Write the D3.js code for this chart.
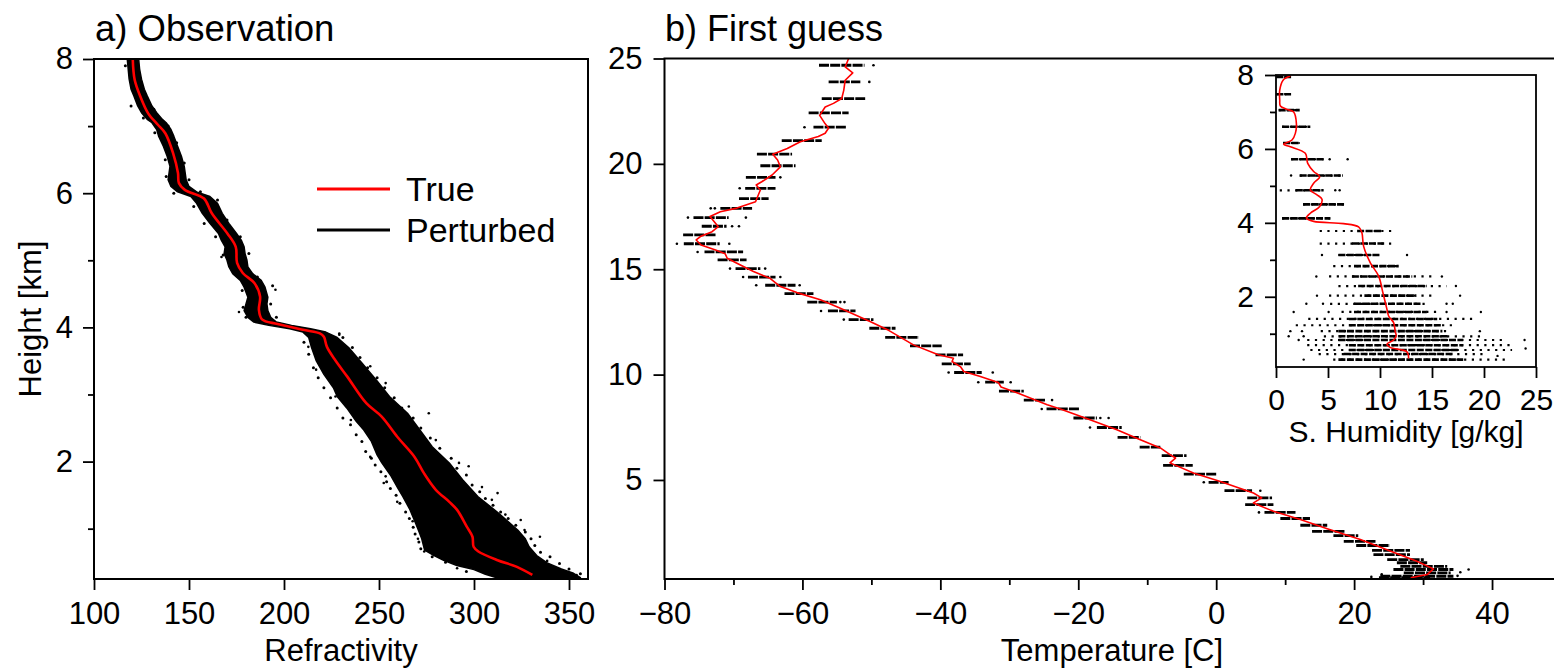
<!DOCTYPE html>
<html><head><meta charset="utf-8">
<script src="https://cdn.jsdelivr.net/npm/d3@7"></script>
<style>
html,body{margin:0;padding:0;background:#fff;}
svg{display:block;font-family:"Liberation Sans",Arial,Helvetica,sans-serif;}
</style></head><body>
<svg id="c" width="1554" height="669"></svg>
<script>
// ---------------- Panel a: refractivity ----------------
const refXTicks = [100,150,200,250,300,350];
const refYTicks = [2,4,6,8];
const refYMinor = [1,3,5,7];
// true profile [N, height km]
const refTrue = [[120.4,8.0],[121.4,7.69],[124.4,7.44],[128.5,7.19],[133.6,7.02],[137.6,6.89],[141.7,6.59],[144.2,6.30],[144.7,6.15],[147.8,6.05],[157.9,5.92],[162,5.70],[170.2,5.40],[174.6,5.20],[175.3,4.96],[178.3,4.81],[184.4,4.66],[187.4,4.46],[186.8,4.26],[188.4,4.12],[196.6,4.05],[210.8,3.96],[218.9,3.91],[221,3.86],[222.6,3.71],[227,3.51],[233.2,3.27],[243.3,2.87],[251.4,2.67],[259.6,2.37],[268.7,2.07],[273.8,1.82],[279.9,1.58],[287,1.40],[291.1,1.28],[296.2,1.03],[299.2,0.88],[299.8,0.73],[302.3,0.66],[312.4,0.53],[322.6,0.43],[330.7,0.31]];
// perturbed cloud envelope [height, N]
const refLeft = [[8.0,117.5],[7.85,118],[7.7,118.5],[7.55,119.5],[7.45,121],[7.3,123],[7.2,125],[7.1,128],[7.05,130.5],[6.95,133],[6.85,134],[6.7,136.5],[6.55,138.5],[6.4,140],[6.3,139.5],[6.2,139],[6.1,140.5],[6.02,144],[5.95,151],[5.85,154],[5.7,157],[5.55,161],[5.4,165.5],[5.3,167],[5.2,169],[5.1,168.5],[5.0,170],[4.9,171],[4.8,173],[4.7,177],[4.6,179],[4.45,181],[4.35,180],[4.25,179],[4.15,181],[4.08,184],[4.03,192],[3.98,203],[3.93,210],[3.85,213],[3.7,214.5],[3.5,217],[3.3,221],[3.1,226],[2.97,228],[2.8,233],[2.6,238],[2.47,242],[2.3,246],[2.1,249],[1.98,251.5],[1.8,256],[1.6,260],[1.48,262.5],[1.3,266],[1.1,269],[0.98,270.7],[0.85,272.5],[0.68,274],[0.6,279],[0.53,284],[0.45,291],[0.39,300],[0.32,306],[0.27,312]];
const refRight = [[8.0,123.5],[7.85,124],[7.7,125],[7.55,126.5],[7.45,128],[7.3,130.5],[7.2,133],[7.1,136],[7.05,138],[6.95,140.5],[6.85,142],[6.7,144],[6.55,146],[6.4,147.5],[6.3,148],[6.2,148.5],[6.1,150],[6.02,154],[5.95,161],[5.85,165],[5.7,167.5],[5.55,171],[5.4,175],[5.3,177.5],[5.2,179],[5.1,179.5],[5.0,180.5],[4.9,181],[4.8,183.5],[4.7,188],[4.6,190],[4.45,191.5],[4.35,191],[4.25,191.5],[4.15,193],[4.08,196],[4.03,204],[3.98,214],[3.93,222],[3.85,228],[3.7,234],[3.47,241],[3.2,249],[2.97,255.5],[2.72,265],[2.47,271.5],[2.22,278],[1.98,287],[1.73,294],[1.48,302],[1.23,313],[0.98,323],[0.85,327],[0.73,329],[0.6,333],[0.49,338.5],[0.4,346],[0.34,352],[0.27,356]];
// isolated perturbed points [N, height]
const refOutliers = [[229.1,3.89],[276.2,2.72],[297.2,1.93],[334.7,0.88],[326.6,0.98],[354,0.31],[234.2,3.02],[219.9,3.71],[253.5,1.78],[259.6,1.40],[267.7,1.11],[273.8,0.66],[291.1,0.41],[312.4,1.53],[316.5,1.21],[324.6,1.13],[309.4,1.43],[292.1,1.98],[279.9,2.32],[265.7,2.82],[253.5,3.17],[245.4,3.42],[212.8,3.71],[216.9,3.37],[227.1,2.97],[235.2,2.62],[245.4,2.07],[252.5,1.68],[167.1,5.05],[176.3,4.23],[195.5,4.56],[229.1,3.91],[304.2,1.62],[320.3,0.72],[338.5,0.52],[270.5,0.85]];
// speckles along the cloud edges [N, height]
const refSpeckle = [[210.5,3.78],[213,3.6],[215.5,3.4],[218,3.25],[221,3.1],[224.5,2.95],[228,2.8],[231,2.65],[235,2.55],[238,2.4],[241,2.3],[243,2.15],[246,2.05],[248,1.95],[251,1.85],[254,1.7],[256,1.6],[259,1.5],[261,1.38],[264,1.25],[266,1.15],[268,1.02],[269,0.92],[271,0.8],[272,0.7],[278,0.58],[285,0.5],[296,0.36],[231,3.85],[236,3.7],[240,3.55],[244,3.4],[249,3.25],[253,3.1],[258,2.95],[262,2.8],[268,2.65],[272,2.5],[277,2.35],[282,2.2],[288,2.05],[291,1.9],[296,1.8],[299,1.65],[303,1.55],[306,1.45],[310,1.35],[314,1.25],[318,1.15],[322,1.05],[327,0.95],[330,0.85],[332,0.75],[335,0.65],[340,0.58],[345,0.48],[350,0.4],[356,0.33],[116.5,7.9],[124.5,7.6],[119.5,7.3],[131.5,7.25],[126,7.12],[139,7.0],[132,6.9],[143.5,6.75],[137.5,6.5],[147.5,6.45],[138,6.25],[150,6.2],[142,6.0],[156,6.02],[152.5,5.8],[165,5.9],[158,5.55],[170,5.6],[164,5.35],[177,5.35],[168,5.08],[181.5,5.1],[172,4.9],[186,4.75],[178,4.55],[194,4.62],[178.5,4.3],[193,4.35],[180,4.15],[196,4.15]];

// ---------------- Panel b: temperature ----------------
const tmpXTicks = [-80,-60,-40,-20,0,20,40];
const tmpXMinor = [-70,-50,-30,-10,10,30,50];
const tmpYTicks = [5,10,15,20,25];
// true profile [T, height]
const tmpTrue = [[-53.3,25],[-53.8,24.6],[-52.7,24.32],[-53.8,23.97],[-54.0,23.5],[-54.3,23.1],[-55.5,22.87],[-56.7,22.7],[-57.5,22.3],[-56.7,21.9],[-56.2,21.7],[-56.7,21.45],[-57.7,21.3],[-60.3,21.05],[-62.2,20.73],[-64.3,20.46],[-63.6,20.18],[-63.2,19.86],[-64.4,19.47],[-65.9,19.15],[-66.7,19.0],[-66.1,18.76],[-66.8,18.2],[-69.5,17.9],[-71.9,17.73],[-73.4,17.5],[-72.2,17.02],[-73.1,16.78],[-74.8,16.55],[-75.4,16.39],[-74.7,16.15],[-72.6,15.91],[-71.2,15.73],[-70.9,15.52],[-69.5,15.28],[-67.1,14.89],[-64.7,14.57],[-63.2,14.18],[-60.8,13.89],[-57.4,13.55],[-54.5,13.15],[-50.2,12.52],[-47.5,12.1],[-43.9,11.41],[-40.3,10.94],[-38.1,10.78],[-38.3,10.62],[-37.1,10.38],[-36.6,10.15],[-34.2,9.91],[-31.6,9.63],[-31.2,9.41],[-29.4,9.2],[-24.5,8.57],[-22.6,8.37],[-18.3,7.86],[-14.4,7.38],[-11.0,6.91],[-8.1,6.52],[-6.7,6.2],[-5.9,6.04],[-6.7,5.81],[-3.3,5.33],[0.6,4.93],[5.4,4.38],[6.6,4.15],[5.4,3.91],[8.3,3.51],[12.2,3.12],[16.1,2.68],[20.9,2.17],[25.7,1.57],[29.1,1.14],[31.5,0.78],[30.6,0.51],[28.2,0.36]];
// first-guess clusters per level [height, Tmin, Tmax]
const tmpLevels = [[24.68,-57.6,-51.0],[23.89,-56.2,-51.6],[23.1,-57.2,-50.9],[22.42,-59.1,-53.3],[21.74,-58.4,-53.6],[21.1,-63.0,-57.2],[20.46,-66.6,-61.5],[19.91,-66.1,-61.0],[19.36,-68.2,-63.9],[18.84,-68.3,-63.9],[18.35,-69.2,-64.9],[17.89,-71.9,-67.3],[17.45,-75.8,-70.7],[17.04,-74.6,-71.0],[16.63,-77.3,-72.5],[16.21,-77.2,-72.0],[15.82,-74.2,-68.6],[15.44,-72.3,-68.1],[15.03,-69.7,-66.1],[14.63,-67.9,-63.9],[14.24,-65.4,-61.0],[13.84,-62.6,-58.4],[13.44,-59.3,-55.0],[13.02,-56.3,-52.3],[12.61,-53.3,-49.7],[12.2,-50.3,-46.5],[11.77,-48.0,-43.1],[11.36,-44.4,-39.8],[10.94,-40.7,-36.7],[10.51,-39.8,-35.6],[10.1,-38.0,-34.0],[9.64,-33.5,-30.8],[9.22,-31.5,-27.9],[8.79,-27.9,-24.8],[8.37,-24.6,-19.9],[7.94,-20.7,-17.3],[7.49,-17.3,-13.7],[7.02,-14.3,-11.0],[6.56,-11.1,-8.1],[6.15,-7.9,-4.3],[5.69,-7.7,-3.4],[5.28,-4.7,0.1],[4.89,-1.1,1.8],[4.49,1.2,5.2],[4.15,4.5,8.1],[3.83,4.2,8.3],[3.46,7.0,11.5],[3.17,9.3,13.6],[2.85,12.2,16.1],[2.56,13.9,18.7],[2.36,17.0,20.6],[2.09,18.5,23.1],[1.89,20.3,25.2],[1.66,22.6,28.1],[1.46,22.8,28.1],[1.22,24.8,30.1],[1.07,26.2,30.6],[0.9,26.7,33.5],[0.75,25.7,34.4],[0.59,27.2,34.0],[0.43,23.8,34.4],[0.36,23.6,31.0]];
const tmpOutliers = [[-49.7,24.68],[-50.3,23.89],[-59.7,21.74],[-63.2,19.36],[-69.1,18.84],[-73.3,17.89],[-72.7,17.89],[-76.6,17.45],[-68.2,17.45],[-70.2,17.04],[-69.2,17.04],[-78.2,16.21],[-70.6,16.21],[-75.2,15.82],[-70.5,15.03],[-65.4,15.03],[-68.6,14.63],[-63.2,14.63],[-66.7,14.24],[-60.4,14.24],[-54.5,13.44],[-53.9,13.44],[-57.3,13.02],[-54.0,12.61],[-38.8,10.1],[-32.4,10.1],[-34.5,9.64],[-29.8,9.64],[-23.8,8.79],[-25.3,8.37],[-16.8,7.94],[-15.6,7.94],[-18.3,7.49],[-1.8,4.89],[6.4,4.49],[6.2,3.46],[36.6,0.75],[35.4,0.62],[35.0,0.45],[22.5,0.4],[24.0,0.52]];

// ---------------- Inset: specific humidity ----------------
const humXTicks = [0,5,10,15,20,25];
const humYTicks = [2,4,6,8];
const humYMinor = [1,3,5,7];
// true profile [q g/kg, height]
const humTrue = [[1.38,7.97],[0.68,7.86],[0.36,7.59],[0.36,7.32],[0.42,7.16],[1.06,7.07],[1.70,7.0],[1.96,6.69],[1.86,6.42],[1.54,6.24],[0.74,6.13],[1.38,6.06],[2.82,5.88],[3.05,5.61],[3.62,5.39],[4.2,5.25],[3.62,5.07],[3.30,4.89],[3.94,4.76],[4.42,4.64],[4.2,4.44],[3.30,4.26],[2.92,4.13],[3.62,4.04],[6.5,3.98],[7.94,3.89],[8.26,3.73],[8.42,3.37],[9.07,2.92],[9.87,2.56],[10.28,2.11],[10.67,1.66],[10.83,1.48],[11.31,1.30],[11.47,1.05],[11.56,0.95],[11.31,0.83],[10.67,0.72],[10.98,0.63],[12.59,0.51],[12.75,0.33]];
// levels [height, sparse min, sparse max, dense min, dense max]
const humLevels = [[7.95,0.04,1.45,0.04,1.45],[7.48,0.04,1.45,0.04,1.45],[7.05,0.26,2.28,0.26,2.28],[6.6,0.58,3.3,0.58,3.3],[6.16,0.68,2.28,0.68,2.28],[5.72,1.45,4.58,1.45,4.58],[5.28,2.28,6.44,2.28,6.44],[4.88,0.36,4.58,1.9,4.58],[4.5,2.6,6.66,2.6,6.66],[4.12,0.58,5.22,0.58,5.22],[3.78,4.2,11.6,7.8,10.2],[3.44,4.2,11.6,7.3,10.4],[3.13,6.0,10.2,6.0,10.0],[2.83,5.5,11.8,7.5,11.8],[2.55,5.1,15.0,7.3,13.1],[2.29,6.0,16.4,7.9,14.5],[2.03,5.1,15.1,8.5,13.5],[1.81,5.2,14.5,7.5,14.0],[1.59,6.3,15.5,7.5,14.5],[1.4,3.1,19.2,7.0,15.5],[1.23,1.9,17.2,7.0,16.0],[1.07,4.3,16.5,6.0,16.0],[0.93,4.6,20.0,6.0,16.5],[0.83,3.0,21.9,6.0,18.0],[0.69,3.0,22.5,7.0,18.0],[0.56,3.3,22.7,7.0,17.5],[0.45,4.1,20.3,6.5,17.0],[0.3,5.5,22.5,6.0,18.0]];
const humOutliers = [[5.16,5.72],[6.89,5.72],[1.45,5.28],[5.70,4.88],[6.12,4.88],[4.42,3.13],[12.6,3.13],[3.88,2.55],[15.95,2.55],[17.3,2.29],[3.94,2.03],[17.7,2.03],[2.92,1.81],[4.52,1.81],[16.4,1.81],[17.0,1.81],[1.70,1.59],[5.06,1.59],[16.4,1.59],[19.7,1.59],[1.38,1.07],[2.5,1.07],[19.6,1.07],[1.22,0.93],[2.66,0.93],[2.18,0.83],[23.9,0.83],[2.66,0.3],[24.0,0.6],[21.3,0.4]];

// ======================================================
const svg = d3.select('#c');
const FONT = '"Liberation Sans",Arial,Helvetica,sans-serif';
const defs = svg.append('defs');
function clip(id,x,y,w,h){defs.append('clipPath').attr('id',id).append('rect').attr('x',x).attr('y',y).attr('width',w).attr('height',h);}

function styleAxis(g,fs){
  g.attr('font-size',fs).attr('font-family',FONT);
  g.select('.domain').remove();
  g.selectAll('.tick line').attr('stroke','#000').attr('stroke-width',1.8);
  g.selectAll('.tick text').attr('fill','#000');
}

// ---- Panel a ----
const xA = d3.scaleLinear().domain([100,360]).range([94,588]);
const yA = d3.scaleLinear().domain([0.25,8]).range([579,59]);
clip('clipA',94,59,494,520);
const gA = svg.append('g');
const plotA = gA.append('g').attr('clip-path','url(#clipA)');
const cloud = refLeft.map(d=>[xA(d[1]),yA(d[0])]).concat(refRight.slice().reverse().map(d=>[xA(d[1]),yA(d[0])]));
plotA.append('path').attr('d',d3.line().curve(d3.curveLinearClosed)(cloud)).attr('fill','#000').attr('stroke','#000').attr('stroke-width',1.5).attr('stroke-linejoin','round');
plotA.selectAll('circle.s').data(refSpeckle).enter().append('circle').attr('cx',d=>xA(d[0])).attr('cy',d=>yA(d[1])).attr('r',1.5).attr('fill','#000');
plotA.selectAll('circle.o').data(refOutliers).enter().append('circle').attr('cx',d=>xA(d[0])).attr('cy',d=>yA(d[1])).attr('r',1.3).attr('fill','#000');
plotA.append('path').datum(refTrue).attr('d',d3.line().x(d=>xA(d[0])).y(d=>yA(d[1])).curve(d3.curveCatmullRom)).attr('fill','none').attr('stroke','#ff0000').attr('stroke-width',2.6);
gA.append('rect').attr('x',94).attr('y',59).attr('width',494).attr('height',520).attr('fill','none').attr('stroke','#000').attr('stroke-width',2);
gA.append('g').attr('transform','translate(0,579)').call(d3.axisBottom(xA).tickValues(refXTicks).tickSize(11).tickPadding(12).tickFormat(d3.format('d'))).call(g=>styleAxis(g,31));
gA.append('g').attr('transform','translate(94,0)').call(d3.axisLeft(yA).tickValues(refYTicks).tickSize(11).tickPadding(10).tickFormat(d3.format('d'))).call(g=>styleAxis(g,31));
gA.append('g').attr('transform','translate(94,0)').call(d3.axisLeft(yA).tickValues(refYMinor).tickSize(6).tickFormat('')).call(g=>styleAxis(g,31));
gA.append('text').attr('x',95).attr('y',41).attr('font-size',36.5).text('a) Observation');
gA.append('text').attr('x',341).attr('y',661).attr('text-anchor','middle').attr('font-size',31).text('Refractivity');
gA.append('text').attr('transform','translate(41,319) rotate(-90)').attr('text-anchor','middle').attr('font-size',31).text('Height [km]');
// legend
gA.append('line').attr('x1',317).attr('x2',390).attr('y1',189).attr('y2',189).attr('stroke','#ff0000').attr('stroke-width',3.2);
gA.append('line').attr('x1',317).attr('x2',390).attr('y1',230).attr('y2',230).attr('stroke','#000').attr('stroke-width',3.2);
gA.append('text').attr('x',406).attr('y',201).attr('font-size',34).text('True');
gA.append('text').attr('x',406).attr('y',242).attr('font-size',34).text('Perturbed');

// ---- Panel b ----
const xB = d3.scaleLinear().domain([-80,50]).range([664.5,1561]);
const yB = d3.scaleLinear().domain([0.3,25]).range([579,58.5]);
clip('clipB',664.5,58.5,896.5,520.5);
const gB = svg.append('g');
const plotB = gB.append('g').attr('clip-path','url(#clipB)');
plotB.selectAll('line.lv').data(tmpLevels).enter().append('line').attr('x1',d=>xB(d[1])).attr('x2',d=>xB(d[2])).attr('y1',d=>yB(d[0])).attr('y2',d=>yB(d[0])).attr('stroke','#000').attr('stroke-width',2.8).attr('stroke-dasharray','10,1.2');
plotB.selectAll('circle.o').data(tmpOutliers).enter().append('circle').attr('cx',d=>xB(d[0])).attr('cy',d=>yB(d[1])).attr('r',1.3).attr('fill','#000');
plotB.append('path').datum(tmpTrue).attr('d',d3.line().x(d=>xB(d[0])).y(d=>yB(d[1]))).attr('fill','none').attr('stroke','#ff0000').attr('stroke-width',1.6).attr('stroke-linejoin','round');
gB.append('rect').attr('x',664.5).attr('y',58.5).attr('width',896.5).attr('height',520.5).attr('fill','none').attr('stroke','#000').attr('stroke-width',2);
gB.append('g').attr('transform','translate(0,579)').call(d3.axisBottom(xB).tickValues(tmpXTicks).tickSize(11).tickPadding(12).tickFormat(d3.format('d'))).call(g=>styleAxis(g,31));
gB.append('g').attr('transform','translate(0,579)').call(d3.axisBottom(xB).tickValues(tmpXMinor).tickSize(6).tickFormat('')).call(g=>styleAxis(g,31));
gB.append('g').attr('transform','translate(664.5,0)').call(d3.axisLeft(yB).tickValues(tmpYTicks).tickSize(11).tickPadding(11).tickFormat(d3.format('d'))).call(g=>styleAxis(g,31));
gB.append('text').attr('x',665).attr('y',41).attr('font-size',36).text('b) First guess');
gB.append('text').attr('x',1112).attr('y',661).attr('text-anchor','middle').attr('font-size',31).text('Temperature [C]');

// ---- Inset ----
const xI = d3.scaleLinear().domain([0,25]).range([1276,1536]);
const yI = d3.scaleLinear().domain([0.1,8]).range([367,75]);
clip('clipI',1276,75,260,292);
const gI = svg.append('g');
gI.append('rect').attr('x',1276).attr('y',75).attr('width',260).attr('height',292).attr('fill','#fff');
const plotI = gI.append('g').attr('clip-path','url(#clipI)');
plotI.selectAll('line.sp').data(humLevels).enter().append('line').attr('x1',d=>xI(d[1])).attr('x2',d=>xI(d[2])).attr('y1',d=>yI(d[0])).attr('y2',d=>yI(d[0])).attr('stroke','#000').attr('stroke-width',2.2).attr('stroke-dasharray','2.2,5.5');
plotI.selectAll('line.dn').data(humLevels).enter().append('line').attr('x1',d=>xI(d[3])).attr('x2',d=>xI(d[4])).attr('y1',d=>yI(d[0])).attr('y2',d=>yI(d[0])).attr('stroke','#000').attr('stroke-width',2.6).attr('stroke-dasharray','7,1.5');
plotI.selectAll('circle.o').data(humOutliers).enter().append('circle').attr('cx',d=>xI(d[0])).attr('cy',d=>yI(d[1])).attr('r',1.2).attr('fill','#000');
plotI.append('path').datum(humTrue).attr('d',d3.line().x(d=>xI(d[0])).y(d=>yI(d[1])).curve(d3.curveCatmullRom)).attr('fill','none').attr('stroke','#ff0000').attr('stroke-width',1.6);
gI.append('rect').attr('x',1276).attr('y',75).attr('width',260).attr('height',292).attr('fill','none').attr('stroke','#000').attr('stroke-width',1.8);
gI.append('g').attr('transform','translate(0,367)').call(d3.axisBottom(xI).tickValues(humXTicks).tickSize(11).tickPadding(11).tickFormat(d3.format('d'))).call(g=>styleAxis(g,30));
gI.append('g').attr('transform','translate(1276,0)').call(d3.axisLeft(yI).tickValues(humYTicks).tickSize(11).tickPadding(11).tickFormat(d3.format('d'))).call(g=>styleAxis(g,30));
gI.append('g').attr('transform','translate(1276,0)').call(d3.axisLeft(yI).tickValues(humYMinor).tickSize(6).tickFormat('')).call(g=>styleAxis(g,30));
gI.append('text').attr('x',1406).attr('y',442).attr('text-anchor','middle').attr('font-size',30).text('S. Humidity [g/kg]');
</script>
</body></html>
